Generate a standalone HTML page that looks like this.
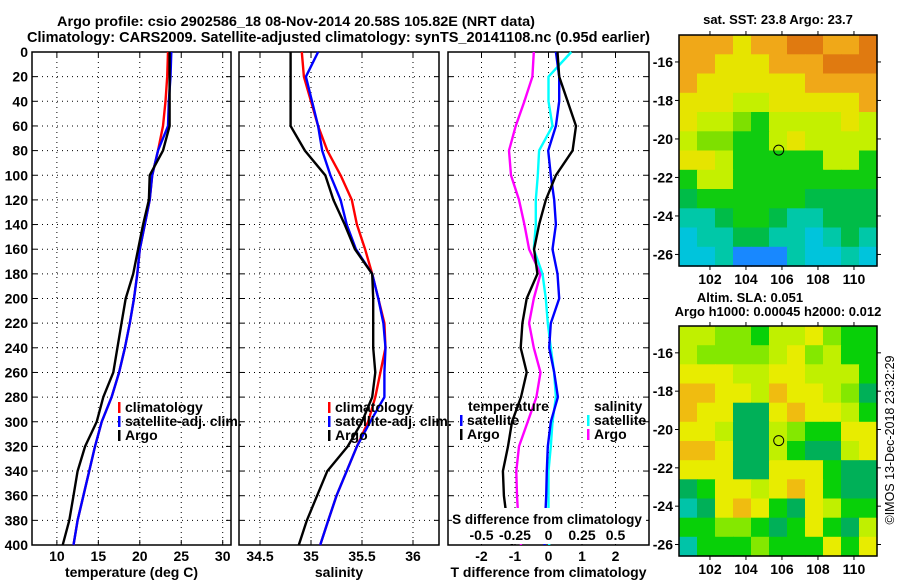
<!DOCTYPE html>
<html><head><meta charset="utf-8"><style>
html,body{margin:0;padding:0;background:#fff;}
svg{display:block;font-family:"Liberation Sans",Arial,sans-serif;font-weight:bold;}
</style></head><body>
<svg id="c" width="900" height="580" viewBox="0 0 900 580" xmlns="http://www.w3.org/2000/svg">
<text x="57" y="26" font-size="14" textLength="478" lengthAdjust="spacingAndGlyphs">Argo profile: csio 2902586_18 08-Nov-2014 20.58S 105.82E (NRT data)</text>
<text x="27" y="42" font-size="14.6" textLength="623" lengthAdjust="spacingAndGlyphs">Climatology: CARS2009. Satellite-adjusted climatology: synTS_20141108.nc (0.95d earlier)</text>
<text x="778" y="24" font-size="13" text-anchor="middle">sat. SST: 23.8 Argo: 23.7</text>
<text x="750" y="302" font-size="13" text-anchor="middle">Altim. SLA: 0.051</text>
<text x="778" y="316" font-size="13" text-anchor="middle">Argo h1000: 0.00045 h2000: 0.012</text>
<text transform="translate(894,440) rotate(-90)" font-size="12.5" font-weight="normal" text-anchor="middle">©IMOS 13-Dec-2018 23:32:29</text>
</svg>
<script>
// ---- data ----
const depths = [0,20,40,60,80,100,120,140,160,180,200,220,240,260,280,300,320,340,360,380,400];
const tempClim = [23.4,23.3,23.1,22.8,22.2,21.5,21.2,20.6,20.0,19.7,19.3,18.8,18.2,17.5,16.6,15.4,14.6,13.9,13.2,12.5,12.0];
const tempSat  = [23.8,23.7,23.5,23.4,22.2,21.5,21.2,20.6,20.0,19.7,19.3,18.8,18.2,17.5,16.6,15.4,14.6,13.9,13.2,12.5,12.0];
const tempArgo = [23.6,23.6,23.6,23.6,22.8,21.2,21.1,20.4,19.8,19.2,18.3,17.8,17.3,16.8,15.6,14.8,13.4,12.5,12.0,11.5,10.7];
const salClim = [34.91,34.93,35.00,35.07,35.16,35.29,35.40,35.45,35.53,35.60,35.66,35.72,35.73,35.68,35.63,35.56,35.45,35.35,35.25,35.17,35.09];
const salSat  = [35.07,34.95,35.01,35.07,35.11,35.19,35.29,35.35,35.44,35.60,35.66,35.71,35.73,35.72,35.72,35.58,35.45,35.35,35.25,35.17,35.09];
const salArgo = [34.80,34.80,34.80,34.80,34.94,35.14,35.22,35.33,35.43,35.60,35.61,35.61,35.61,35.63,35.60,35.50,35.36,35.16,35.06,34.96,34.88];
const dTsat  = [0.22,0.32,0.32,0.22,-0.01,0.07,0.17,0.22,0.12,0.27,0.32,0.07,0.02,0.17,0.28,0.07,-0.02,-0.05,-0.07,-0.10,-0.12];
const dTargo = [0.27,0.32,0.57,0.82,0.72,0.22,-0.08,-0.28,-0.43,-0.33,-0.65,-0.78,-0.83,-0.65,-0.82,-1.09,-1.21,-1.36,-1.33,-1.24,-1.09];
const dSsat  = [0.17,0.0,0.0,0.03,-0.07,-0.08,-0.095,-0.095,-0.11,-0.045,-0.02,-0.005,0.017,0.042,0.055,0.03,0.017,0.0,0.0,0.0,0.005];
const dSargo = [-0.11,-0.12,-0.18,-0.245,-0.295,-0.28,-0.22,-0.18,-0.145,-0.06,-0.11,-0.145,-0.11,-0.06,-0.09,-0.155,-0.22,-0.24,-0.235,-0.225,-0.205];
const depthTicks = [0,20,40,60,80,100,120,140,160,180,200,220,240,260,280,300,320,340,360,380,400];
const tempTicks = [10,15,20,25,30];
const salTicks = [34.5,35,35.5,36];
const salTickLabels = ["34.5","35","35.5","36"];
const dTTicks = [-2,-1,0,1,2];
const dSTicks = [-0.5,-0.25,0,0.25,0.5];
const dSTickLabels = ["-0.5","-0.25","0","0.25","0.5"];
const lonTicks = [102,104,106,108,110];
const latTicks = [-16,-18,-20,-22,-24,-26];
const sstGrid = [
"oooYooOOooO","ooYYYoooOOO","oYYYYYYoooo","YYYyyYYYYYo","YyylGyyyyYy","yllGGyYyyyy",
"YYyGGGGGyyG","GyyGGGGGGGG","gGGGGGGgggg","ttgGGgttggg","cttggttctgt","cctbbbtcctc"];
const slaGrid = [
"yyllGyyYlGG","yllllyYlyGG","YYYyyYYyyyG","ooYYyoYYylg","oYYggYoYYyG","YYyggylGGYY",
"ooYggyGggyY","YYYggYYYGgg","gGYYyYoYGgg","tgYoYGgYyGG","GGllGgGYGgy","tGGGlGGGYGY"];
const sstColors = {O:"#e07a10",o:"#f0a818",Y:"#e6e400",y:"#c4f000",l:"#7ee000",G:"#10cc10",g:"#00bc48",t:"#00c8a8",c:"#00c4dc",b:"#1888ff"};
const slaColors = {o:"#f0bc10",Y:"#e8ec00",y:"#c0f000",l:"#84e800",G:"#08d008",g:"#00b058",t:"#00c4a8"};
const argoLon = 105.82, argoLat = -20.58;

// ---- helpers ----
const svg = document.getElementById('c');
const NS = "http://www.w3.org/2000/svg";
function mk(tag, attrs, parent){ const e=document.createElementNS(NS,tag); for(const k in attrs) e.setAttribute(k,attrs[k]); (parent||svg).appendChild(e); return e; }
const Y0=52, Y1=545;
const yD = d => Y0 + d/400*(Y1-Y0);
function lin(d0,d1,r0,r1){ return v => r0 + (v-d0)/(d1-d0)*(r1-r0); }

const panels = [
 {name:'temperature-panel', x0:32, x1:231, sx:lin(7,31,32,231), ticks:tempTicks, labels:tempTicks.map(String), title:'temperature (deg C)', depthLabels:true},
 {name:'salinity-panel', x0:239, x1:439, sx:lin(34.294,36.255,239,439), ticks:salTicks, labels:salTickLabels, title:'salinity'},
 {name:'difference-panel', x0:448, x1:649, sx:lin(-3,3,448,649), ticks:dTTicks, labels:dTTicks.map(String), title:'T difference from climatology'}
];
panels.forEach(p=>{
  const g = mk('g',{});
  
  
  depthTicks.forEach(d=>{
    if(d>0 && d<400){ const l=mk('line',{x1:p.x0,x2:p.x1,y1:yD(d),y2:yD(d),stroke:'#000','stroke-width':1,'stroke-dasharray':'1 4'},g);
        }
    mk('line',{x1:p.x0,x2:p.x0+5,y1:yD(d),y2:yD(d),stroke:'#000'},g);
    mk('line',{x1:p.x1-5,x2:p.x1,y1:yD(d),y2:yD(d),stroke:'#000'},g);
    if(p.depthLabels){ const t=mk('text',{x:p.x0-4,y:yD(d)+5,'font-size':14,'text-anchor':'end'},g); t.textContent=d;
        }
  });
  p.ticks.forEach((v,i)=>{
    const x=p.sx(v);
    const l=mk('line',{x1:x,x2:x,y1:Y0,y2:Y1,stroke:'#000','stroke-width':1,'stroke-dasharray':'1 4'},g);
     
    mk('line',{x1:x,x2:x,y1:Y1-5,y2:Y1,stroke:'#000'},g);
    mk('line',{x1:x,x2:x,y1:Y0,y2:Y0+5,stroke:'#000'},g);
    const t=mk('text',{x:x,y:561,'font-size':14,'text-anchor':'middle'},g); t.textContent=p.labels[i];
     
  });
  const r=mk('rect',{x:p.x0,y:Y0,width:p.x1-p.x0,height:Y1-Y0,fill:'none',stroke:'#000','stroke-width':1.5},g);
   
  const tt=mk('text',{x:(p.x0+p.x1)/2,y:577,'font-size':14,'text-anchor':'middle'},g); tt.textContent=p.title;
   
});
function line(vals, sx, color, name){
  const pts = vals.map((v,i)=> sx(v).toFixed(1)+','+yD(depths[i]).toFixed(1)).join(' ');
  const e = mk('polyline',{points:pts,fill:'none',stroke:color,'stroke-width':2.4,'stroke-linejoin':'round'});
  
  
}
const [P1,P2,P3]=panels;
line(tempClim,P1.sx,'#f00','temp-climatology-line');
line(tempSat,P1.sx,'#00f','temp-satellite-line');
line(tempArgo,P1.sx,'#000','temp-argo-line');
line(salClim,P2.sx,'#f00','sal-climatology-line');
line(salSat,P2.sx,'#00f','sal-satellite-line');
line(salArgo,P2.sx,'#000','sal-argo-line');
const sxS = v => P3.sx(v*4);
line(dSargo,sxS,'#f0f','sdiff-argo-line');
line(dSsat,sxS,'#0ff','sdiff-satellite-line');
line(dTsat,P3.sx,'#00f','tdiff-satellite-line');
line(dTargo,P3.sx,'#000','tdiff-argo-line');
// S diff axis
mk('rect',{x:452,y:508,width:194,height:36,fill:'#fff'});
const sT=mk('text',{x:547,y:524,'font-size':13.5,'text-anchor':'middle'}); sT.textContent='S difference from climatology';
 
dSTicks.forEach((v,i)=>{ const t=mk('text',{x:sxS(v),y:540,'font-size':14,'text-anchor':'middle'}); t.textContent=dSTickLabels[i];
    });

// legends
function legend(x,y,color,label,name){
  const g=mk('g',{});
  
  
  if(color) mk('rect',{x:x,y:y-10,width:2.5,height:11,fill:color},g);
  const t=mk('text',{x:x+(color?7:0),y:y,'font-size':14},g); t.textContent=label;
}
legend(118,412,'#f00','climatology','legend-climatology');
legend(118,426,'#00f','satellite-adj. clim.','legend-satellite-adj');
legend(118,440,'#000','Argo','legend-argo');
legend(328,412,'#f00','climatology','legend-sal-climatology');
legend(328,426,'#00f','satellite-adj. clim.','legend-sal-satellite-adj');
legend(328,440,'#000','Argo','legend-sal-argo');
legend(468,411,null,'temperature','legend-temperature-heading');
legend(460,425,'#00f','satellite','legend-t-satellite');
legend(460,439,'#000','Argo','legend-t-argo');
legend(594,411,null,'salinity','legend-salinity-heading');
legend(587,425,'#0ff','satellite','legend-s-satellite');
legend(587,439,'#f0f','Argo','legend-s-argo');

// maps
function map(grid, colors, top, bottom, name){
  const X0=679,X1=877;
  const lonS=lin(100.28,111.28,X0,X1), latS=lin(-14.6,-26.6,top,bottom);
  const g=mk('g',{});
  
  
  const rows=grid.length, cols=grid[0].length;
  grid.forEach((row,r)=>{ for(let c=0;c<cols;c++){
    const x=X0+c*(X1-X0)/cols, y=top+r*(bottom-top)/rows;
    const cell=mk('rect',{x:x.toFixed(1),y:y.toFixed(1),width:((X1-X0)/cols+0.6).toFixed(1),height:((bottom-top)/rows+0.6).toFixed(1),fill:colors[row[c]]},g);
     
  }});
  mk('rect',{x:X0,y:top,width:X1-X0,height:bottom-top,fill:'none',stroke:'#000','stroke-width':1.5},g);
  lonTicks.forEach(v=>{ const x=lonS(v);
    mk('line',{x1:x,x2:x,y1:top-4,y2:top,stroke:'#000'},g); mk('line',{x1:x,x2:x,y1:bottom,y2:bottom+4,stroke:'#000'},g);
    const t=mk('text',{x:x,y:bottom+18,'font-size':14,'text-anchor':'middle'},g); t.textContent=v;
      });
  latTicks.forEach(v=>{ const y=latS(v);
    mk('line',{x1:X0-4,x2:X0,y1:y,y2:y,stroke:'#000'},g); mk('line',{x1:X1,x2:X1+4,y1:y,y2:y,stroke:'#000'},g);
    const t=mk('text',{x:X0-6,y:y+5,'font-size':14,'text-anchor':'end'},g); t.textContent=v;
      });
  const m=mk('circle',{cx:lonS(argoLon),cy:latS(argoLat),r:5,fill:'none',stroke:'#000','stroke-width':1},g);
   
}
map(sstGrid,sstColors,35,266,'sst-map');
map(slaGrid,slaColors,326,556,'sla-map');
</script>
</body></html>
